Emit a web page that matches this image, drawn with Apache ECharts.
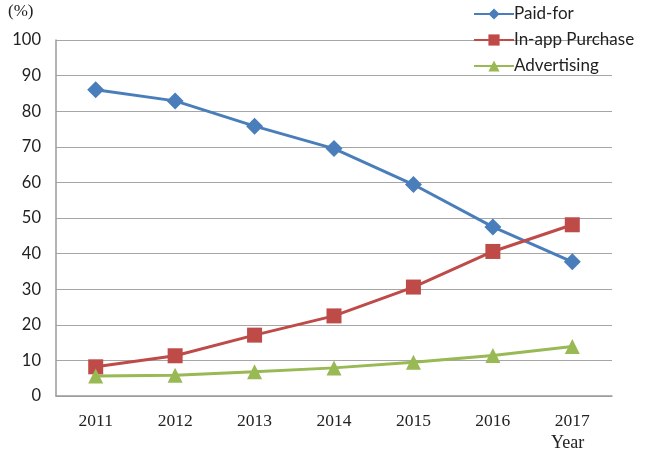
<!DOCTYPE html>
<html>
<head>
<meta charset="utf-8">
<script src="https://cdn.jsdelivr.net/npm/echarts@6/dist/echarts.min.js"></script>
<style>
  html, body { margin: 0; padding: 0; background: #fff; }
  #chart { width: 648px; height: 458px; }
</style>
</head>
<body>
<div id="chart"></div>
<script>
// Share of app revenue by business model, 2011-2017 (%)
const years = ['2011', '2012', '2013', '2014', '2015', '2016', '2017'];
const paidFor = [86.0, 82.9, 75.8, 69.5, 59.4, 47.5, 37.7];
const inAppPurchase = [8.2, 11.3, 17.1, 22.5, 30.6, 40.6, 48.1];
const advertising = [5.6, 5.8, 6.8, 7.9, 9.5, 11.4, 13.9];
const yTicks = { min: 0, max: 100, interval: 10 };

const chart = echarts.init(document.getElementById('chart'), null, { renderer: 'canvas' });

const sansFont = 'Lato, "Open Sans", sans-serif';
const serifFont = '"Liberation Serif", "DejaVu Serif", serif';

function lineSeries(name, data, color, symbol, size) {
  return {
    name: name,
    type: 'line',
    data: data,
    symbol: symbol,
    symbolSize: size,
    lineStyle: { color: color, width: 3 },
    itemStyle: { color: color },
    emphasis: { disabled: true },
    animation: false
  };
}

chart.setOption({
  animation: false,
  grid: { left: 56, top: 40, width: 556, height: 356, containLabel: false },
  legend: {
    orient: 'vertical',
    left: 468,
    top: 0,
    itemWidth: 40,
    itemHeight: 14,
    itemGap: 8,
    textStyle: { fontFamily: sansFont, fontSize: 17, color: '#222', padding: [0, 0, 0, -5], lineHeight: 18 },
    data: ['Paid-for', 'In-app Purchase', 'Advertising']
  },
  xAxis: {
    type: 'category',
    data: years,
    boundaryGap: true,
    axisLine: { lineStyle: { color: '#9a9a9a', width: 1.5 } },
    axisTick: { show: false },
    axisLabel: { fontFamily: serifFont, fontSize: 17.5, color: '#222', margin: 16 }
  },
  yAxis: {
    type: 'value',
    min: yTicks.min,
    max: yTicks.max,
    interval: yTicks.interval,
    axisLine: { show: true, lineStyle: { color: '#9a9a9a', width: 1.5 } },
    axisTick: { show: false },
    splitLine: { lineStyle: { color: '#a6a6a6', width: 1.2 } },
    axisLabel: { fontFamily: sansFont, fontSize: 16.5, color: '#222', margin: 15 }
  },
  graphic: [
    { type: 'text', left: 8, top: 3, style: { text: '(%)', font: '17px ' + serifFont, fill: '#222' } },
    { type: 'text', left: 551, top: 434, style: { text: 'Year', font: '18px ' + serifFont, fill: '#222' } }
  ],
  series: [
    lineSeries('Paid-for', paidFor, '#4a7ebb', 'diamond', 17),
    lineSeries('In-app Purchase', inAppPurchase, '#be4b48', 'rect', 15),
    lineSeries('Advertising', advertising, '#98b954', 'triangle', 15)
  ]
});
</script>
</body>
</html>
